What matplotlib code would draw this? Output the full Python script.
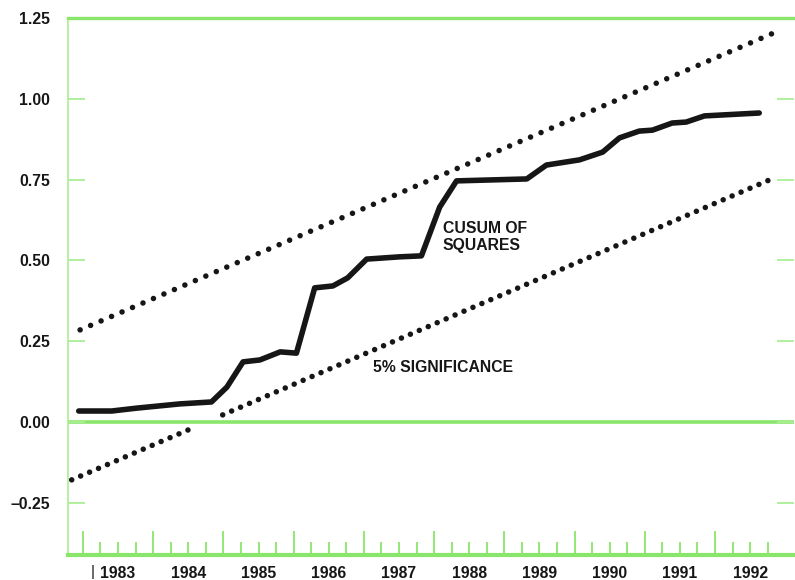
import matplotlib
matplotlib.use("Agg")
import matplotlib.pyplot as plt
from matplotlib.ticker import FixedLocator, FixedFormatter, NullFormatter
import numpy as np

# CUSUM of squares (decimal years, cumulative share)
cusum_dates = [1982.94, 1983.41, 1983.77, 1984.38, 1984.83, 1985.05, 1985.28,
               1985.52, 1985.81, 1986.04, 1986.30, 1986.56, 1986.77, 1987.04,
               1987.51, 1987.82, 1988.08, 1988.32, 1989.32, 1989.60, 1990.07,
               1990.40, 1990.64, 1990.92, 1991.11, 1991.39, 1991.59, 1991.85,
               1992.63]
cusum_values = [0.034, 0.034, 0.043, 0.056, 0.062, 0.108, 0.186,
                0.192, 0.217, 0.213, 0.415, 0.421, 0.446, 0.504,
                0.511, 0.514, 0.665, 0.746, 0.752, 0.795, 0.811,
                0.835, 0.879, 0.900, 0.903, 0.925, 0.928, 0.947,
                0.956]

# 5% significance bands
upper_dates = [1982.96, 1992.84]
upper_values = [0.285, 1.204]
lower_dates = [1982.84, 1984.59, np.nan, 1984.99, 1992.84]
lower_values = [-0.179, -0.016, np.nan, 0.022, 0.755]

year_ticks = list(range(1983, 1993))
year_labels = [str(y) for y in year_ticks]
y_ticks = [-0.25, 0.00, 0.25, 0.50, 0.75, 1.00, 1.25]
y_labels = ["\u20130.25", "0.00", "0.25", "0.50", "0.75", "1.00", "1.25"]

GREEN = "#8ae66a"
GREEN_LIGHT = "#aaee94"
INK = "#161616"

plt.rcParams["font.family"] = ["Liberation Sans", "DejaVu Sans"]

fig = plt.figure(figsize=(7.95, 5.80), dpi=100)
ax = fig.add_axes([0.0855, 0.0431, 0.9135, 0.9259])
ax.set_xlim(1982.787, 1993.128)
ax.set_ylim(-0.4115, 1.25)

# frame
for side in ("top", "bottom", "left", "right"):
    ax.spines[side].set_color(GREEN)
ax.spines["top"].set_linewidth(2.4)
ax.spines["bottom"].set_linewidth(3.0)
ax.spines["left"].set_linewidth(1.2)
ax.spines["left"].set_color(GREEN_LIGHT)
ax.spines["right"].set_visible(False)

ax.axhline(0.0, color=GREEN, lw=2.6, zorder=1)

# bands
ax.plot(upper_dates, upper_values, color=INK, lw=4.0,
        linestyle=(0, (0.001, 2.05)), dash_capstyle="round", zorder=3)
ax.plot(lower_dates, lower_values, color=INK, lw=4.0,
        linestyle=(0, (0.001, 1.75)), dash_capstyle="round", zorder=3)

# cusum line
ax.plot(cusum_dates, cusum_values, color=INK, lw=4.0,
        solid_joinstyle="round", solid_capstyle="round", zorder=4)

ax.text(1988.12, 0.572, "CUSUM OF\nSQUARES", fontsize=11.3, fontweight="bold",
        color=INK, ha="left", va="center", linespacing=1.15)
ax.text(1987.125, 0.170, "5% SIGNIFICANCE", fontsize=11.3, fontweight="bold",
        color=INK, ha="left", va="center")

# x axis: year boundaries as major ticks, quarters as minor ticks,
# year names centred in each year
quarters = [y + q for y in year_ticks for q in (0.25, 0.5, 0.75)]
ax.xaxis.set_major_locator(FixedLocator(year_ticks))
ax.xaxis.set_major_formatter(NullFormatter())
ax.xaxis.set_minor_locator(FixedLocator(quarters))
minor_labels = []
for y in year_ticks:
    minor_labels += ["", str(y), ""]
ax.xaxis.set_minor_formatter(FixedFormatter(minor_labels))
ax.tick_params(axis="x", which="major", direction="in", length=17,
               width=1.3, color=GREEN, top=False, bottom=True)
ax.tick_params(axis="x", which="minor", direction="in", length=9.5,
               width=1.3, color=GREEN, top=False, bottom=True, pad=8,
               labelsize=11.3, labelcolor=INK)
for lab in ax.get_xticklabels(minor=True):
    lab.set_fontweight("bold")

ax.text(1983.14, -0.0317, "|", transform=ax.get_xaxis_transform(),
        fontsize=11, color=INK, ha="center", va="center")

# y axis
ax.set_yticks(y_ticks)
ax.set_yticklabels(y_labels, fontsize=11.3, fontweight="bold", color=INK)
ax.tick_params(axis="y", which="major", direction="in", length=12,
               width=1.3, color=GREEN_LIGHT, left=True, right=True, pad=13)

fig.savefig("out.png", dpi=100, facecolor="white")
